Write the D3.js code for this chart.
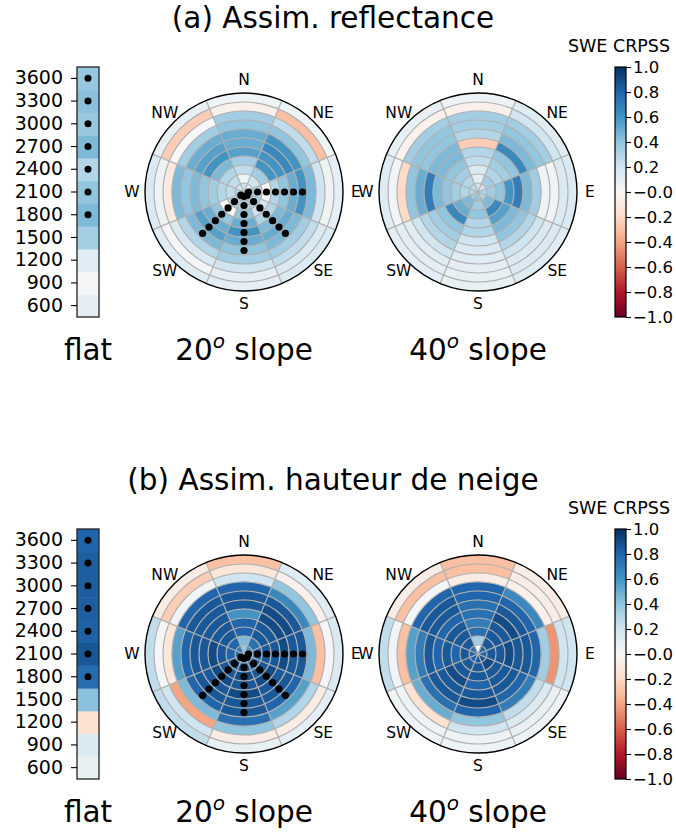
<!DOCTYPE html>
<html><head><meta charset="utf-8">
<script src="https://cdn.jsdelivr.net/npm/d3@7"></script>
<style>body{margin:0;background:#fff;} text{font-family:"DejaVu Sans",sans-serif;fill:#000;}</style>
</head><body><svg id="c" width="676" height="832"></svg>
<script>
// ---------------- data ----------------
const elevations = [600, 900, 1200, 1500, 1800, 2100, 2400, 2700, 3000, 3300, 3600];
const directions = ["N", "NE", "E", "SE", "S", "SW", "W", "NW"];
const panelTitles = ["(a) Assim. reflectance", "(b) Assim. hauteur de neige"];
const slopeLabels = ["20", "40"];
const cbTicks = [-1.0, -0.8, -0.6, -0.4, -0.2, 0.0, 0.2, 0.4, 0.6, 0.8, 1.0];
const cbTickLabels = ["\u22121.0", "\u22120.8", "\u22120.6", "\u22120.4", "\u22120.2", "\u22120.0", "0.2", "0.4", "0.6", "0.8", "1.0"];
const sigElevations = [1800, 2100, 2400, 2700, 3000, 3300, 3600];
const sigDirections = ["E", "SE", "S", "SW"];

// flat CRPSS, elevation order 600 -> 3600
const flatA = [0.1, 0.02, 0.12, 0.35, 0.45, 0.4, 0.3, 0.45, 0.38, 0.42, 0.38];
const flatB = [0.08, 0.15, -0.15, 0.42, 0.77, 0.86, 0.82, 0.83, 0.83, 0.83, 0.8];

// polar CRPSS, one row per direction (N, NE, E, SE, S, SW, W, NW), elevation order 600 -> 3600
const a20 = [
  [0.05, -0.05, 0.35, 0.4, 0.5, 0.5, 0.55, 0.35, 0.25, 0.05, 0.2],
  [0.05, -0.3, 0.25, 0.4, 0.6, 0.65, 0.6, 0.6, 0.35, 0.2, 0.1],
  [0.1, 0.05, 0.2, 0.45, 0.6, 0.5, 0.4, 0.3, 0.0, 0.3, 0.3],
  [0.15, 0.15, 0.25, 0.35, 0.45, 0.5, 0.45, 0.3, 0.2, 0.3, 0.3],
  [0.1, 0.1, 0.2, 0.35, 0.4, 0.5, 0.6, 0.5, 0.4, 0.3, 0.3],
  [0.12, 0.02, 0.15, 0.3, 0.45, 0.55, 0.5, 0.4, 0.0, 0.3, 0.25],
  [0.15, 0.05, -0.1, 0.45, 0.4, 0.45, 0.4, 0.35, 0.3, 0.25, 0.3],
  [0.08, -0.25, 0.0, 0.35, 0.5, 0.55, 0.6, 0.45, 0.3, 0.25, 0.2]
];
const a40 = [
  [0.06, -0.05, 0.35, 0.35, 0.3, -0.25, 0.3, 0.25, 0.15, 0.1, 0.2],
  [0.12, 0.2, 0.35, 0.4, 0.45, 0.65, 0.4, 0.35, 0.3, 0.35, 0.2],
  [0.15, 0.15, 0.03, 0.05, 0.35, 0.45, 0.7, 0.6, 0.4, 0.35, 0.3],
  [0.12, 0.15, 0.15, 0.2, 0.3, 0.4, 0.45, 0.55, 0.65, 0.45, 0.3],
  [0.08, 0.08, 0.1, 0.12, 0.15, 0.2, 0.3, 0.3, 0.4, 0.35, 0.4],
  [0.1, 0.1, 0.12, 0.2, 0.3, 0.35, 0.4, 0.65, 0.5, 0.45, 0.35],
  [0.12, 0.03, -0.2, 0.4, 0.5, 0.7, 0.45, 0.4, 0.35, 0.3, 0.3],
  [0.08, -0.04, 0.35, 0.4, 0.4, 0.45, 0.45, 0.4, 0.35, 0.3, 0.25]
];
const b20 = [
  [-0.3, -0.12, 0.2, 0.8, 0.85, 0.85, 0.6, 0.8, 0.8, 0.45, 0.4],
  [0.12, -0.05, 0.4, 0.65, 0.85, 0.9, 0.9, 0.85, 0.85, 0.75, 0.6],
  [0.15, 0.02, -0.3, 0.45, 0.85, 0.85, 0.9, 0.85, 0.85, 0.8, 0.75],
  [0.1, -0.08, 0.3, 0.55, 0.8, 0.85, 0.85, 0.9, 0.85, 0.8, 0.75],
  [0.08, -0.08, 0.4, 0.75, 0.85, 0.85, 0.9, 0.85, 0.9, 0.85, 0.8],
  [0.25, 0.2, -0.4, 0.45, 0.8, 0.85, 0.85, 0.9, 0.85, 0.85, 0.8],
  [0.25, 0.02, -0.12, 0.55, 0.8, 0.85, 0.85, 0.9, 0.85, 0.8, 0.75],
  [-0.08, -0.25, 0.03, 0.8, 0.85, 0.85, 0.85, 0.85, 0.85, 0.8, 0.7]
];
const b40 = [
  [-0.3, -0.3, -0.08, 0.8, 0.8, 0.75, 0.75, 0.7, 0.75, 0.35, 0.0],
  [-0.08, -0.08, -0.05, 0.65, 0.8, 0.85, 0.9, 0.85, 0.85, 0.85, 0.8],
  [0.2, 0.2, -0.45, 0.35, 0.8, 0.85, 0.85, 0.9, 0.85, 0.85, 0.8],
  [0.06, 0.08, 0.15, 0.25, 0.7, 0.8, 0.85, 0.85, 0.85, 0.9, 0.85],
  [0.05, 0.06, 0.2, 0.4, 0.8, 0.9, 0.85, 0.8, 0.85, 0.85, 0.85],
  [0.05, 0.05, -0.15, 0.5, 0.75, 0.85, 0.85, 0.9, 0.85, 0.85, 0.8],
  [0.25, 0.03, -0.3, 0.55, 0.7, 0.85, 0.8, 0.85, 0.8, 0.85, 0.8],
  [-0.08, -0.3, 0.02, 0.8, 0.85, 0.85, 0.8, 0.85, 0.85, 0.85, 0.75]
];

const panels = [
  {title: panelTitles[0], flat: flatA, polars: [a20, a40], dy: 0},
  {title: panelTitles[1], flat: flatB, polars: [b20, b40], dy: 462}
];

// ---------------- drawing ----------------
const svg = d3.select("#c");
const rdbu = ["#67001f","#b2182b","#d6604d","#f4a582","#fddbc7","#f7f7f7","#d1e5f0","#92c5de","#4393c3","#2166ac","#053061"];
const color = d3.scaleLinear().domain(d3.range(11).map(i => -1 + i * 0.2)).range(rdbu).clamp(true);

const defs = svg.append("defs");
const grad = defs.append("linearGradient").attr("id", "cbgrad").attr("x1", 0).attr("y1", 1).attr("x2", 0).attr("y2", 0);
d3.range(0, 1.0001, 0.02).forEach(t => grad.append("stop").attr("offset", t).attr("stop-color", color(-1 + 2 * t)));

const flatX = 77, flatW = 22, topY = 67, H = 250;
const R = 99, centersX = [244, 478], polarCY = 192;
const cbX = 615, cbW = 11;

panels.forEach((p, pi) => {
  const g = svg.append("g").attr("transform", `translate(0,${p.dy})`);

  g.append("text").attr("x", 333).attr("y", 28).attr("text-anchor", "middle")
    .style("font-size", "29.5px").text(p.title);

  // ---- flat column ----
  const yBand = d3.scaleBand().domain(elevations.slice().reverse()).range([topY, topY + H]);
  g.selectAll(".fc").data(elevations).enter().append("rect")
    .attr("x", flatX).attr("width", flatW)
    .attr("y", d => yBand(d)).attr("height", yBand.bandwidth() + 0.5)
    .attr("fill", (d, i) => color(p.flat[i]));
  g.append("rect").attr("x", flatX).attr("y", topY).attr("width", flatW).attr("height", H)
    .attr("fill", "none").attr("stroke", "#222").attr("stroke-width", 1.3);
  const ax = g.append("g").attr("transform", `translate(${flatX},0)`)
    .call(d3.axisLeft(yBand).tickSize(6).tickPadding(8));
  ax.select(".domain").remove();
  ax.selectAll("line").attr("stroke", "#000").attr("stroke-width", 1.1);
  ax.selectAll("text").style("font-size", "19px").attr("font-family", "DejaVu Sans");
  g.selectAll(".fd").data(sigElevations).enter().append("circle")
    .attr("cx", flatX + flatW / 2).attr("cy", d => yBand(d) + yBand.bandwidth() / 2)
    .attr("r", 3.5).attr("fill", "#000");
  g.append("text").attr("x", flatX + flatW / 2).attr("y", 360).attr("text-anchor", "middle")
    .style("font-size", "29.5px").text("flat");

  // ---- polars ----
  p.polars.forEach((vals, k) => {
    const cx = centersX[k];
    const pg = g.append("g").attr("transform", `translate(${cx},${polarCY})`);
    const rBand = d3.scaleBand().domain(elevations.slice().reverse()).range([0, R]);
    const aBand = d3.scaleBand().domain(directions).range([-Math.PI / 8, 2 * Math.PI - Math.PI / 8]);
    const arc = d3.arc();
    const cells = [];
    directions.forEach((dname, di) => elevations.forEach((e, ei) => cells.push({d: dname, e: e, v: vals[di][ei]})));
    pg.selectAll(".cell").data(cells).enter().append("path")
      .attr("d", c => arc({innerRadius: rBand(c.e), outerRadius: rBand(c.e) + rBand.bandwidth(),
        startAngle: aBand(c.d), endAngle: aBand(c.d) + aBand.bandwidth()}))
      .attr("fill", c => color(c.v)).attr("stroke", c => color(c.v)).attr("stroke-width", 0.3);
    pg.selectAll(".gc").data(elevations.filter(e => rBand(e) > 0)).enter().append("circle")
      .attr("r", e => rBand(e)).attr("fill", "none").attr("stroke", "#b0b0b0").attr("stroke-width", 1.2);
    pg.selectAll(".gl").data(directions).enter().append("line")
      .attr("x1", 0).attr("y1", 0)
      .attr("x2", d => R * Math.sin(aBand(d))).attr("y2", d => -R * Math.cos(aBand(d)))
      .attr("stroke", "#b0b0b0").attr("stroke-width", 1.2);
    pg.append("circle").attr("r", R).attr("fill", "none").attr("stroke", "#000").attr("stroke-width", 1.4);
    pg.selectAll(".dl").data(directions).enter().append("text")
      .attr("x", d => (R + 13) * Math.sin(aBand(d) + aBand.bandwidth() / 2))
      .attr("y", d => -(R + 13) * Math.cos(aBand(d) + aBand.bandwidth() / 2))
      .attr("text-anchor", "middle").attr("dominant-baseline", "central")
      .style("font-size", "15.5px").text(d => d);
    if (k === 0) {
      const dots = [];
      sigDirections.forEach(dname => sigElevations.forEach(e => dots.push({d: dname, e: e})));
      pg.selectAll(".dot").data(dots).enter().append("circle")
        .attr("cx", c => (rBand(c.e) + rBand.bandwidth() / 2) * Math.sin(aBand(c.d) + aBand.bandwidth() / 2))
        .attr("cy", c => -(rBand(c.e) + rBand.bandwidth() / 2) * Math.cos(aBand(c.d) + aBand.bandwidth() / 2))
        .attr("r", 3.6).attr("fill", "#000");
    }
    const lab = g.append("text").attr("x", cx).attr("y", 360).attr("text-anchor", "middle").style("font-size", "29.5px");
    lab.append("tspan").text(slopeLabels[k]);
    lab.append("tspan").attr("dy", -12).style("font-size", "20px").style("font-style", "italic").text("o");
    lab.append("tspan").attr("dy", 12).text(" slope");
  });

  // ---- colorbar ----
  const cbScale = d3.scaleLinear().domain([-1, 1]).range([topY + H, topY]);
  g.append("rect").attr("x", cbX).attr("y", topY).attr("width", cbW).attr("height", H)
    .attr("fill", "url(#cbgrad)").attr("stroke", "#000").attr("stroke-width", 1.2);
  const cax = g.append("g").attr("transform", `translate(${cbX + cbW},0)`)
    .call(d3.axisRight(cbScale).tickValues(cbTicks).tickSize(5).tickPadding(2)
      .tickFormat((d, i) => cbTickLabels[i]));
  cax.select(".domain").remove();
  cax.selectAll("line").attr("stroke", "#000").attr("stroke-width", 1.1);
  cax.selectAll("text").style("font-size", "16.5px").attr("font-family", "DejaVu Sans");
  g.append("text").attr("x", 619).attr("y", 52).attr("text-anchor", "middle")
    .style("font-size", "17.5px").text("SWE CRPSS");
});
</script>
</body></html>
